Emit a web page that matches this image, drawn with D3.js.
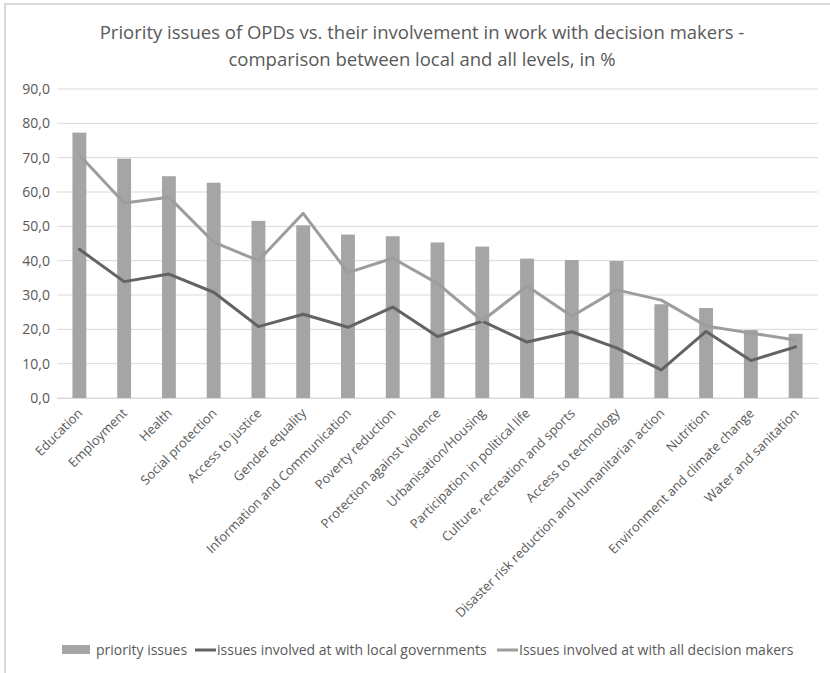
<!DOCTYPE html>
<html>
<head>
<meta charset="utf-8">
<script src="https://cdn.jsdelivr.net/npm/d3@7"></script>
<style>
  body { margin: 0; background: #fff; }
  text { fill: #595959; }
  .title { font-family: 'Open Sans', sans-serif; font-size: 18.5px; }
  .axis text { font-family: 'Open Sans', sans-serif; font-size: 13px; }
  .yaxis text { font-size: 14px; }
  .legend text { font-family: 'Open Sans', sans-serif; font-size: 14px; }
</style>
</head>
<body>
<div id="chart"></div>
<script>
const categories = [
  'Education', 'Employment', 'Health', 'Social protection', 'Access to justice',
  'Gender equality', 'Information and Communication', 'Poverty reduction',
  'Protection against violence', 'Urbanisation/Housing', 'Participation in political life',
  'Culture, recreation and sports', 'Access to technology',
  'Disaster risk reduction and humanitarian action', 'Nutrition',
  'Environment and climate change', 'Water and sanitation'
]
const priorityIssues = [77.3, 69.7, 64.6, 62.7, 51.6, 50.3, 47.6, 47.1, 45.3, 44.1, 40.6, 40.2, 39.9, 27.3, 26.2, 19.8, 18.7]
const localGov = [43.3, 33.9, 36.1, 30.8, 20.8, 24.4, 20.6, 26.5, 17.9, 22.4, 16.3, 19.3, 14.6, 8.2, 19.4, 10.9, 14.9]
const allMakers = [70.8, 56.8, 58.5, 45.4, 40.0, 53.8, 36.5, 40.7, 33.4, 22.5, 32.6, 23.8, 31.5, 28.5, 21.0, 18.9, 16.9]
const yTicks = [0, 10, 20, 30, 40, 50, 60, 70, 80, 90]
const legendNames = ['priority issues', 'issues involved at with local governments', 'Issues involved at with all decision makers']

const width = 830
const height = 673
const margin = { top: 89, right: 12, bottom: 275, left: 57 }

const barColor = '#a5a5a5'
const localColor = '#636363'
const allColor = '#9d9d9d'

const svg = d3.select('#chart')
  .append('svg')
  .attr('width', width)
  .attr('height', height)

// chart area border
svg.append('path')
  .attr('d', `M5,${height}V4H${width}`)
  .attr('fill', 'none')
  .attr('stroke', '#d9d9d9')
  .attr('stroke-width', 2)

const title = svg.append('text')
  .attr('class', 'title')
  .attr('text-anchor', 'middle')
title.append('tspan').attr('x', 422).attr('y', 39).text('Priority issues of OPDs vs. their involvement in work with decision makers -')
title.append('tspan').attr('x', 422).attr('y', 66).text('comparison between local and all levels, in %')

const x = d3.scaleBand()
  .domain(categories)
  .range([margin.left, width - margin.right])
  .paddingInner(0.69)
  .paddingOuter(0.345)

const y = d3.scaleLinear()
  .domain([0, 90])
  .range([height - margin.bottom, margin.top])

// gridlines
svg.append('g')
  .selectAll('line')
  .data(yTicks)
  .join('line')
  .attr('x1', margin.left)
  .attr('x2', width - margin.right)
  .attr('y1', d => y(d))
  .attr('y2', d => y(d))
  .attr('stroke', '#d9d9d9')
  .attr('stroke-width', 1)

// y axis labels
const yAxis = svg.append('g')
  .attr('class', 'axis yaxis')
  .attr('transform', `translate(${margin.left},0)`)
  .call(d3.axisLeft(y).tickValues(yTicks).tickSize(0).tickPadding(7)
    .tickFormat(d => d3.format('.1f')(d).replace('.', ',')))
yAxis.select('.domain').remove()

// bars
svg.append('g')
  .selectAll('rect')
  .data(priorityIssues)
  .join('rect')
  .attr('x', (d, i) => x(categories[i]))
  .attr('width', x.bandwidth())
  .attr('y', d => y(d))
  .attr('height', d => y(0) - y(d))
  .attr('fill', barColor)

const line = d3.line()
  .x((d, i) => x(categories[i]) + x.bandwidth() / 2)
  .y(d => y(d))

svg.append('path')
  .datum(localGov)
  .attr('d', line)
  .attr('fill', 'none')
  .attr('stroke', localColor)
  .attr('stroke-width', 3)
  .attr('stroke-linejoin', 'round')
  .attr('stroke-linecap', 'round')

svg.append('path')
  .datum(allMakers)
  .attr('d', line)
  .attr('fill', 'none')
  .attr('stroke', allColor)
  .attr('stroke-width', 3)
  .attr('stroke-linejoin', 'round')
  .attr('stroke-linecap', 'round')

// x axis (categories rotated)
const xAxis = svg.append('g')
  .attr('class', 'axis')
  .attr('transform', `translate(0,${y(0)})`)
  .call(d3.axisBottom(x).tickSize(0).tickPadding(0))
xAxis.select('.domain')
  .attr('stroke', '#d9d9d9')
xAxis.selectAll('text')
  .attr('text-anchor', 'end')
  .attr('dy', 0)
  .attr('transform', 'translate(4,16) rotate(-45)')

// legend
const legend = svg.append('g').attr('class', 'legend')
  .attr('transform', 'translate(0,650)')
legend.append('rect').attr('x', 62).attr('y', -5).attr('width', 28).attr('height', 9).attr('fill', barColor)
legend.append('text').attr('x', 96).attr('y', 5).text(legendNames[0])
legend.append('line').attr('x1', 195).attr('x2', 216).attr('y1', 0).attr('y2', 0)
  .attr('stroke', localColor).attr('stroke-width', 3)
legend.append('text').attr('x', 217).attr('y', 5).text(legendNames[1])
legend.append('line').attr('x1', 497).attr('x2', 518).attr('y1', 0).attr('y2', 0)
  .attr('stroke', allColor).attr('stroke-width', 3)
legend.append('text').attr('x', 519).attr('y', 5).text(legendNames[2])
</script>
</body>
</html>
